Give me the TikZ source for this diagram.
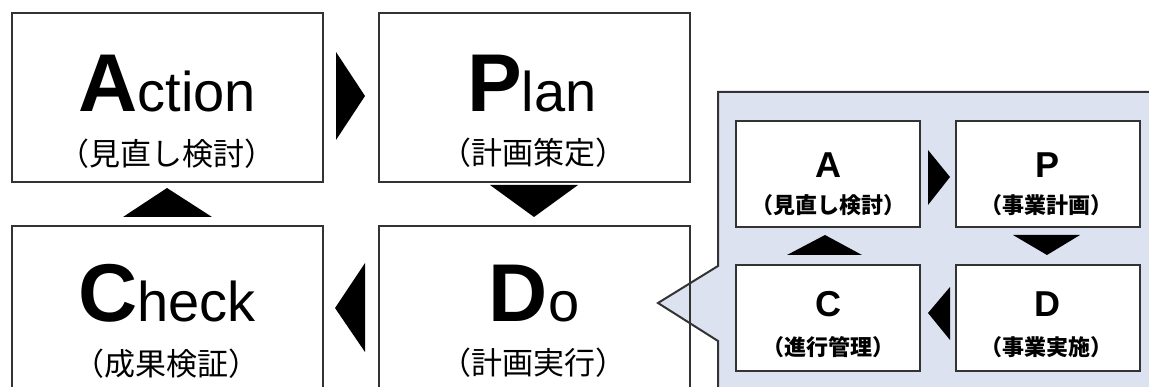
\documentclass[tikz,border=0pt]{standalone}
\usepackage{fontspec}
\setmainfont{Liberation Sans}
\newfontfamily\jp{Noto Sans CJK JP}
\usetikzlibrary{positioning}

\definecolor{panelblue}{HTML}{DCE2F0}
\definecolor{edge}{HTML}{333333}

\newcommand\bighd[2]{{\bfseries\fontsize{82}{82}\selectfont #1}{\fontsize{56}{56}\selectfont #2}}

\tikzset{
  bigbox/.style={draw=edge, line width=2pt, minimum width=311pt, minimum height=169pt, inner sep=0pt},
  smallbox/.style={draw=edge, fill=white, line width=2pt, minimum width=184pt, minimum height=106pt, inner sep=0pt},
  bighead/.style={anchor=base, inner sep=0pt},
  bigsub/.style={inner sep=0pt, font=\jp\fontsize{31}{31}\selectfont},
  smallhead/.style={anchor=base, inner sep=0pt, font=\bfseries\fontsize{36}{36}\selectfont},
  smallsub/.style={inner sep=0pt, font=\jp\bfseries\fontsize{22}{22}\selectfont},
  tri/.style={fill=black}
}

\begin{document}
\begin{tikzpicture}[x=1pt,y=-1pt]
\useasboundingbox (0,0) rectangle (1149,387);
\clip (0,0) rectangle (1149,387);

% callout panel
\draw[fill=panelblue, draw=edge, line width=2pt] (1170,92) -- (718,92) -- (718,266) -- (658,303) -- (718,341) -- (718,410) -- (1170,410) -- cycle;

% big cycle
\node[bigbox] (act) at (167.5,97.5) {};
\node[bigbox, right=54pt of act] (plan) {};
\node[bigbox, below=42pt of act] (chk) {};
\node[bigbox, below=42pt of plan] (do) {};

\node[bighead] (actT) at (167,112) {\bighd{A}{ction}};
\node[bigsub] (actS) at (167,154) {（見直し検討）};
\node[bighead] (planT) at (532,112) {\bighd{P}{lan}};
\node[bigsub] (planS) at (533,153) {（計画策定）};
\node[bighead] (chkT) at (167,322) {\bighd{C}{heck}};
\node[bigsub] (chkS) at (166,364) {（成果検証）};
\node[bighead] (doT) at (534,322) {\bighd{D}{o}};
\node[bigsub] (doS) at (533,363) {（計画実行）};

% big arrows
\fill[tri] (336,52) -- (365,96) -- (336,140) -- cycle;
\fill[tri] (490,185) -- (534,217) -- (578,185) -- cycle;
\fill[tri] (365,263) -- (335,308) -- (365,352) -- cycle;
\fill[tri] (123,217) -- (167,188) -- (212,217) -- cycle;

% small cycle
\node[smallbox] (a) at (828,174) {};
\node[smallbox, right=34pt of a] (p) {};
\node[smallbox, below=36pt of a] (c) {};
\node[smallbox, below=36pt of p] (d) {};

\node[smallhead] (aT) at (828,178) {A};
\node[smallsub] (aS) at (828,205) {（見直し検討）};
\node[smallhead] (pT) at (1047,178) {P};
\node[smallsub] (pS) at (1046,205) {（事業計画）};
\node[smallhead] (cT) at (828,317) {C};
\node[smallsub] (cS) at (828,347) {（進行管理）};
\node[smallhead] (dT) at (1047,317) {D};
\node[smallsub] (dS) at (1046,347) {（事業実施）};

% small arrows
\fill[tri] (928,150) -- (950,177) -- (928,205) -- cycle;
\fill[tri] (1013,235) -- (1047,255) -- (1080,235) -- cycle;
\fill[tri] (950,287) -- (928,313) -- (950,340) -- cycle;
\fill[tri] (787,255) -- (825,235) -- (862,255) -- cycle;
\end{tikzpicture}
\end{document}
